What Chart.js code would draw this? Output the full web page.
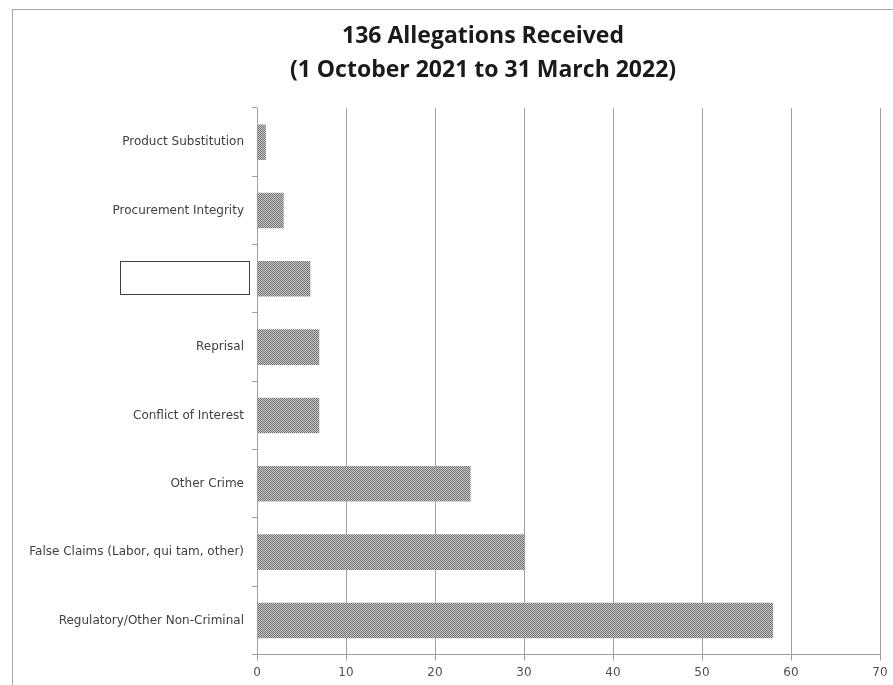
<!DOCTYPE html>
<html>
<head>
<meta charset="utf-8">
<script src="https://cdn.jsdelivr.net/npm/chart.js"></script>
<style>
    html, body { margin: 0; padding: 0; background: #fff; }
    #wrap { width: 893px; height: 685px; }
</style>
</head>
<body>
<div id="wrap"><canvas id="chart" width="893" height="685"></canvas></div>
<script>
// Datos del gráfico (de arriba hacia abajo)
const categories = [
    'Product Substitution',
    'Procurement Integrity',
    '',
    'Reprisal',
    'Conflict of Interest',
    'Other Crime',
    'False Claims (Labor, qui tam, other)',
    'Regulatory/Other Non-Criminal'
];
const allegations = [1, 3, 6, 7, 7, 24, 30, 58];
const titleLines = ['136 Allegations Received', '(1 October 2021 to 31 March 2022)'];
const xMin = 0;
const xMax = 70;
const xStep = 10;
const redactedIndex = 2;

// Trama gris tipo tramado para las barras
function makeHatch() {
    const c = document.createElement('canvas');
    c.width = 2;
    c.height = 2;
    const g = c.getContext('2d');
    g.fillStyle = '#c8c8c8';
    g.fillRect(0, 0, 2, 2);
    g.fillStyle = '#737373';
    g.fillRect(0, 0, 1, 1);
    g.fillRect(1, 1, 1, 1);
    return g.createPattern(c, 'repeat');
}

// Marco exterior, título y recuadro tapado
const framePlugin = {
    id: 'frame',
    beforeDraw(chart) {
        const ctx = chart.ctx;
        ctx.save();
        ctx.strokeStyle = '#a8a8a8';
        ctx.lineWidth = 1;
        ctx.strokeRect(12.5, 9.5, 900, 700);

        // Título (centrado como en el original)
        ctx.fillStyle = '#1a1a1a';
        ctx.font = 'bold 23px "Open Sans"';
        ctx.textAlign = 'center';
        ctx.textBaseline = 'middle';
        ctx.fillText(titleLines[0], 483, 36);
        ctx.fillText(titleLines[1], 483, 70);
        ctx.restore();
    },
    afterDraw(chart) {
        const ctx = chart.ctx;
        const yScale = chart.scales.y;
        const cy = yScale.getPixelForValue(redactedIndex);
        ctx.save();
        ctx.fillStyle = '#fff';
        ctx.strokeStyle = '#404040';
        ctx.lineWidth = 1;
        ctx.fillRect(120.5, Math.round(cy - 18) + 0.5, 129, 33);
        ctx.strokeRect(120.5, Math.round(cy - 18) + 0.5, 129, 33);
        ctx.restore();
    }
};

const ctx = document.getElementById('chart');
new Chart(ctx, {
    type: 'bar',
    data: {
        labels: categories,
        datasets: [{
            data: allegations,
            backgroundColor: makeHatch(),
            borderWidth: 0,
            barPercentage: 0.52,
            categoryPercentage: 1.0,
        }]
    },
    options: {
        indexAxis: 'y',
        responsive: false,
        animation: false,
        layout: {
            padding: { left: 0, right: 13, top: 108, bottom: 0 }
        },
        plugins: {
            legend: { display: false },
            tooltip: { enabled: false },
            title: { display: false }
        },
        scales: {
            x: {
                min: xMin,
                max: xMax,
                ticks: {
                    stepSize: xStep,
                    color: '#505050',
                    padding: 5,
                    font: { family: 'DejaVu Sans', size: 12 }
                },
                grid: {
                    color: '#a0a0a0',
                    lineWidth: 1,
                    tickLength: 6
                },
                border: {
                    color: '#a0a0a0'
                }
            },
            y: {
                afterFit(scale) { scale.width = 257; },
                ticks: {
                    color: '#404040',
                    padding: 8,
                    font: { family: 'DejaVu Sans', size: 12 }
                },
                grid: {
                    offset: true,
                    drawOnChartArea: false,
                    color: '#a0a0a0',
                    tickLength: 5
                },
                border: {
                    color: '#a0a0a0'
                }
            }
        }
    },
    plugins: [framePlugin]
});
</script>
</body>
</html>
